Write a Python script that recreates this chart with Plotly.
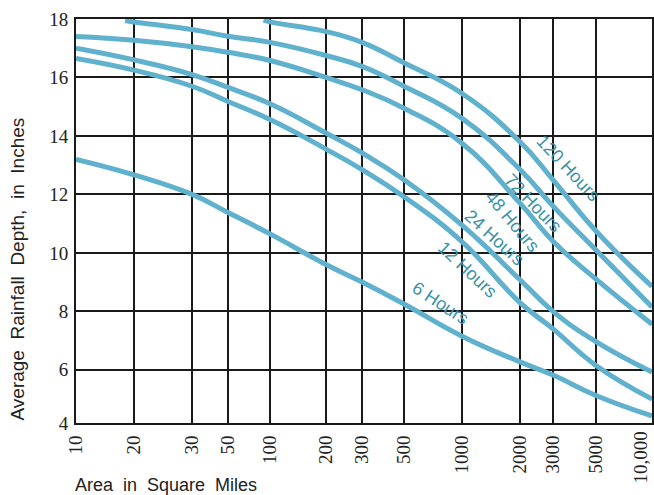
import numpy as np
import plotly.graph_objects as go

# ---- axis definitions ----
AREA_TICKS = [10, 20, 30, 50, 100, 200, 300, 500, 1000, 2000, 3000, 5000, 10000]
AREA_TICK_TEXT = ["10", "20", "30", "50", "100", "200", "300", "500", "1000",
                  "2000", "3000", "5000", "10,000"]
# relative spacing of the (non-uniform) area scale printed on the chart
AREA_SCALE = [0, 58, 116, 152, 194, 250, 286, 328, 386, 444, 477, 520, 576]

DEPTH_TICKS = [4.18, 6, 8, 10, 12, 14, 16, 18]
DEPTH_TICK_TEXT = ["4", "6", "8", "10", "12", "14", "16", "18"]

# ---- data (area in sq. miles, depth in inches) ----
area_6h = [10, 20, 30, 50, 100, 200, 300, 500, 1000, 2000, 3000, 5000, 10000]
depth_6h = [13.2, 12.67, 12.0, 11.38, 10.65, 9.6, 9.0, 8.25, 7.15, 6.27, 5.82, 5.12, 4.42]

area_12h = [10, 20, 30, 50, 100, 200, 300, 500, 1000, 2000, 3000, 5000, 10000]
depth_12h = [16.65, 16.25, 15.7, 15.18, 14.56, 13.55, 12.85, 11.92, 10.38, 8.3, 7.4, 6.15, 5.0]

area_24h = [10, 20, 30, 50, 100, 200, 300, 500, 1000, 2000, 3000, 5000, 10000]
depth_24h = [17.0, 16.6, 16.1, 15.66, 15.1, 14.1, 13.42, 12.5, 10.95, 9.08, 8.0, 6.96, 5.92]

area_48h = [10, 20, 30, 50, 100, 200, 300, 500, 1000, 2000, 3000, 5000, 10000]
depth_48h = [17.4, 17.27, 17.05, 16.86, 16.58, 16.0, 15.58, 14.95, 13.75, 11.7, 10.4, 9.1, 7.56]

area_72h = [18, 20, 30, 50, 100, 200, 300, 500, 1000, 2000, 3000, 5000, 10000]
depth_72h = [17.95, 17.9, 17.64, 17.41, 17.2, 16.75, 16.38, 15.7, 14.6, 12.85, 11.6, 10.1, 8.15]

area_120h = [90, 100, 200, 300, 500, 1000, 2000, 3000, 5000, 10000]
depth_120h = [17.97, 17.9, 17.57, 17.2, 16.5, 15.45, 13.8, 12.5, 10.75, 8.85]

curve_names = ["6 Hours", "12 Hours", "24 Hours", "48 Hours", "72 Hours", "120 Hours"]
curve_areas = [area_6h, area_12h, area_24h, area_48h, area_72h, area_120h]
curve_depths = [depth_6h, depth_12h, depth_24h, depth_48h, depth_72h, depth_120h]

# label placement (area, depth, angle)
label_area = [769, 1074, 1483, 1839, 2350, 3590]
label_depth = [8.29, 9.42, 10.52, 11.07, 11.72, 12.91]
label_angle = [33, 43, 42, 50, 46, 47]


def area_to_x(a):
    return np.interp(np.log10(np.asarray(a, dtype=float)), np.log10(AREA_TICKS), AREA_SCALE)


LINE_COLOR = "#5fb1ce"
LABEL_COLOR = "#3a92a8"
TICK_FONT = dict(family="Liberation Serif, Times New Roman, serif", size=19, color="#222")
TITLE_FONT = dict(family="Liberation Sans, Arial, sans-serif", size=18, color="#222")

fig = go.Figure()
for name, a, d in zip(curve_names, curve_areas, curve_depths):
    fig.add_trace(go.Scatter(
        x=area_to_x(a), y=d, mode="lines", name=name,
        line=dict(color=LINE_COLOR, width=5, shape="spline", smoothing=1.3),
        hoverinfo="skip", cliponaxis=True,
    ))

annotations = []
for name, a, d, ang in zip(curve_names, label_area, label_depth, label_angle):
    annotations.append(dict(
        x=float(area_to_x(a)), y=d, xref="x", yref="y", text=name, showarrow=False,
        textangle=ang, font=dict(family="Liberation Sans, Arial, sans-serif", size=18,
                                 color=LABEL_COLOR),
        xanchor="center", yanchor="middle",
    ))

# last area tick label is pulled inside the page edge, as printed
annotations.append(dict(
    text=AREA_TICK_TEXT[-1], xref="x", yref="paper", x=AREA_SCALE[-1], y=0,
    xanchor="right", yanchor="top", yshift=-6, xshift=1, textangle=-90,
    showarrow=False, font=TICK_FONT,
))

annotations.append(dict(
    text="Average  Rainfall  Depth,  in  Inches", xref="paper", yref="paper",
    x=0, y=0, xshift=-59, xanchor="center", yanchor="bottom", textangle=-90,
    showarrow=False, font=dict(TITLE_FONT, size=19),
))
annotations.append(dict(
    text="Area  in  Square  Miles", xref="paper", yref="paper",
    x=0, y=0, xshift=-3, yshift=-62, xanchor="left", yanchor="middle",
    showarrow=False, font=TITLE_FONT,
))

fig.update_layout(
    width=654, height=495,
    margin=dict(l=76, r=2, t=19, b=72, autoexpand=False),
    paper_bgcolor="white", plot_bgcolor="white",
    showlegend=False,
    annotations=annotations,
    xaxis=dict(
        range=[AREA_SCALE[0] - 0.01, AREA_SCALE[-1] + 0.01],
        tickmode="array", tickvals=AREA_SCALE[:-1], ticktext=AREA_TICK_TEXT[:-1],
        tickangle=-90, ticks="", ticklabelstandoff=3, automargin=False,
        tickfont=TICK_FONT,
        showgrid=True, gridcolor="#1a1a1a", gridwidth=2,
        showline=True, linecolor="#1a1a1a", linewidth=2, mirror=True,
        zeroline=False, fixedrange=True,
    ),
    yaxis=dict(
        range=[DEPTH_TICKS[0], DEPTH_TICKS[-1]],
        tickmode="array", tickvals=DEPTH_TICKS, ticktext=DEPTH_TICK_TEXT,
        ticks="", ticklabelstandoff=2, automargin=False,
        tickfont=TICK_FONT,
        showgrid=True, gridcolor="#1a1a1a", gridwidth=2,
        showline=True, linecolor="#1a1a1a", linewidth=2, mirror=True,
        zeroline=False, fixedrange=True,
    ),
)

fig.write_html("out.html", config={"displayModeBar": False},
               post_script="document.body.style.margin='0';")
